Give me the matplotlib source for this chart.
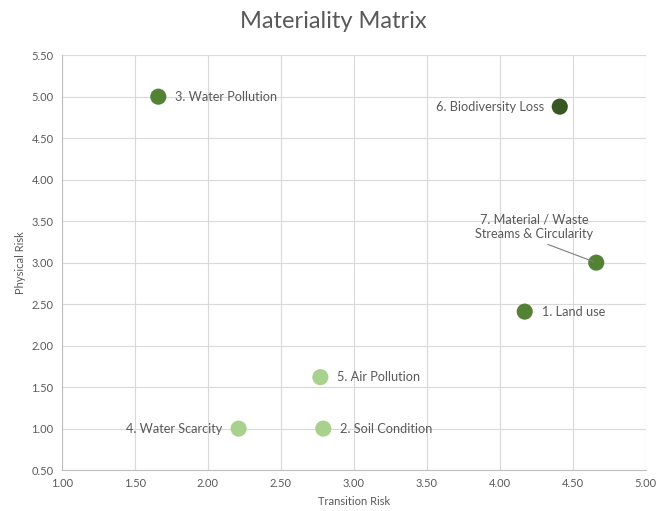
import matplotlib.pyplot as plt

# materiality scores per topic
labels = ["1. Land use", "2. Soil Condition", "3. Water Pollution", "4. Water Scarcity",
          "5. Air Pollution", "6. Biodiversity Loss", "7. Material / Waste\nStreams & Circularity"]
transition = [4.17, 2.79, 1.66, 2.21, 2.77, 4.41, 4.66]
physical = [2.41, 1.00, 5.00, 1.00, 1.62, 4.88, 3.00]
colors = ["#548235", "#a9d18e", "#548235", "#a9d18e", "#a9d18e", "#385723", "#548235"]

# label placement: (dx, dy) in pixels, horizontal alignment
offsets = [(17, 0, "left"), (17, 0, "left"), (17, 0, "left"), (-16, 0, "right"),
           (17, 0, "left"), (-16, 0, "right"), (-62, 36, "center")]

plt.rcParams['font.family'] = ['Lato', 'DejaVu Sans']
txt = "#595959"

fig = plt.figure(figsize=(6.7, 5.11), dpi=100)
ax = fig.add_axes([0.0925, 0.080, 0.8715, 0.812])

ax.scatter(transition, physical, s=135, c=colors, zorder=3, linewidths=0)

for lab, x, y, (dx, dy, ha) in zip(labels, transition, physical, offsets):
    if "\n" in lab:
        ax.annotate(lab, (x, y), xytext=(dx, dy), textcoords="offset pixels",
                    ha=ha, va="center", fontsize=9.2, color=txt, linespacing=1.3,
                    arrowprops=dict(arrowstyle="-", color="#7f7f7f", lw=0.8,
                                    shrinkA=3, shrinkB=2, relpos=(0.52, 0.0)))
    else:
        ax.annotate(lab, (x, y), xytext=(dx, dy), textcoords="offset pixels",
                    ha=ha, va="center", fontsize=9.2, color=txt)

ax.set_xlim(1, 5)
ax.set_ylim(0.5, 5.5)
ax.set_xticks([1 + 0.5 * i for i in range(9)])
ax.set_yticks([0.5 + 0.5 * i for i in range(11)])
ax.xaxis.set_major_formatter(lambda v, p: f"{v:.2f}")
ax.yaxis.set_major_formatter(lambda v, p: f"{v:.2f}")
ax.tick_params(length=0, labelsize=8, colors=txt, pad=6)
ax.grid(color="#d9d9d9", lw=0.8)
ax.set_axisbelow(True)
for side in ["top", "right"]:
    ax.spines[side].set_visible(False)
for side in ["left", "bottom"]:
    ax.spines[side].set_color("#bfbfbf")

ax.set_xlabel("Transition Risk", fontsize=8, color=txt, labelpad=5)
ax.set_ylabel("Physical Risk", fontsize=8, color=txt, labelpad=4)
fig.text(0.497, 0.957, "Materiality Matrix", ha="center", va="center", fontsize=17, color=txt)

fig.savefig("out.png", dpi=100)
